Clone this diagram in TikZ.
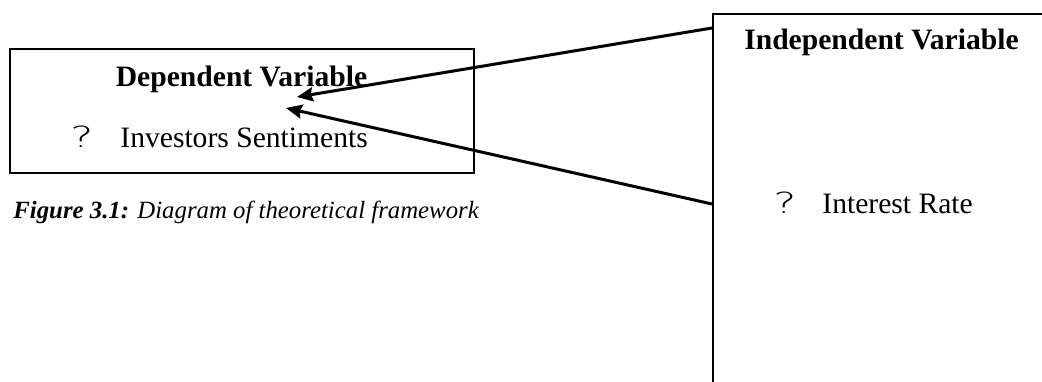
\documentclass[tikz,border=0pt]{standalone}
\usepackage{fontspec}
\usepackage{graphicx}
\setmainfont{Liberation Serif}
\newfontfamily\qfont{DejaVu Sans ExtraLight}
\usetikzlibrary{arrows.meta}
\tikzset{
  thinbox/.style={draw, line width=0.75pt, inner sep=0pt},
  thickbox/.style={draw, line width=1pt, inner sep=0pt},
  head/.style={font=\fontsize{14.8pt}{17pt}\selectfont\bfseries, inner sep=0pt},
  item/.style={font=\fontsize{14.8pt}{17pt}\selectfont, inner sep=0pt},
  captext/.style={font=\fontsize{12.4pt}{15pt}\selectfont, inner sep=0pt},
  link/.style={line width=1.5pt, -{Stealth[inset=1pt,length=8pt,width=7pt]}},
}
\newcommand{\qm}{\scalebox{1.5}[1]{\qfont\fontsize{14.5pt}{15pt}\selectfont ?}}
\begin{document}
\begin{tikzpicture}[x=0.5pt,y=-0.5pt]
\useasboundingbox (0,0) rectangle (1042,381);
\clip (0,0) rectangle (1042,381);
% left box
\node[thinbox, minimum width=232pt, minimum height=62pt] (dep) at (242,111) {};
\node[head, anchor=base] (deptitle) at (241.5,86) {Dependent Variable};
\node[item, anchor=base west] (depq) at (70,147) {\qm};
\node[item, anchor=base west] (depitem) at (120,147) {Investors Sentiments};
% caption
\node[captext, anchor=base west] (caption) at (13,218) {\textbf{\textit{Figure 3.1:}} \textit{Diagram of theoretical framework}};
% right box
\node[thickbox, anchor=north west, minimum width=200pt, minimum height=200pt] (indep) at (712,13) {};
\node[head, anchor=base] (indeptitle) at (881.5,49) {Independent Variable};
\node[item, anchor=base west] (indepq) at (773,213) {\qm};
\node[item, anchor=base west] (indepitem) at (822,213) {Interest Rate};
% arrows
\coordinate (s1) at (712,28);
\coordinate (t1) at (297,97);
\coordinate (s2) at (712,204);
\coordinate (t2) at (286,108);
\draw[link] (s1) -- (t1);
\draw[link] (s2) -- (t2);
\end{tikzpicture}
\end{document}
